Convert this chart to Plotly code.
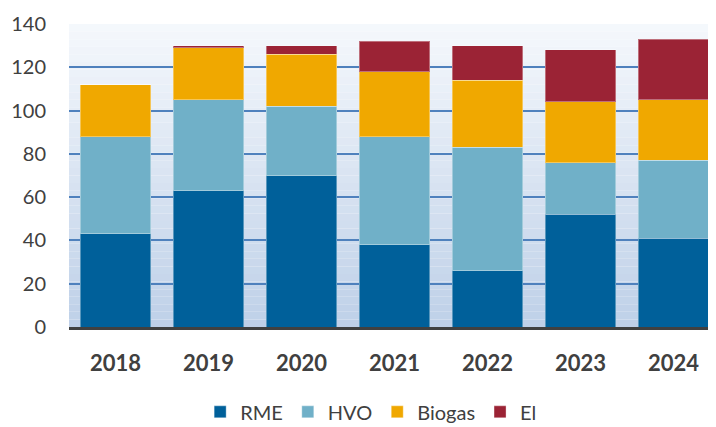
import plotly.graph_objects as go

years = ["2018", "2019", "2020", "2021", "2022", "2023", "2024"]
rme = [43, 63, 70, 38, 26, 52, 41]
hvo = [45, 42, 32, 50, 57, 24, 36]
biogas = [24, 24, 24, 30, 31, 28, 28]
el = [0, 1, 4, 14, 16, 24, 28]

series = [
    ("RME", rme, "#00609A"),
    ("HVO", hvo, "#70B0C8"),
    ("Biogas", biogas, "#F0A800"),
    ("El", el, "#9B2335"),
]

fig = go.Figure()
for name, vals, col in series:
    fig.add_trace(go.Bar(
        x=years, y=vals, name=name,
        marker=dict(color=col, line=dict(color="rgba(255,255,255,0.35)", width=1)),
    ))

# gradient background via thin strips
shapes = []
n = 40
top = (245, 248, 252)
bot = (190, 208, 232)
for i in range(n):
    t = (i + 0.5) / n
    c = tuple(int(round(top[k] + (bot[k] - top[k]) * t)) for k in range(3))
    shapes.append(dict(type="rect", xref="paper", yref="paper",
                       x0=0, x1=1, y0=1 - (i + 1) / n, y1=1 - i / n,
                       fillcolor="rgb(%d,%d,%d)" % c, line=dict(width=0), layer="below"))

FONT = "Lato, Liberation Sans, sans-serif"
fig.update_layout(
    barmode="stack",
    bargap=0.237,
    width=708, height=419,
    margin=dict(l=61, r=0, t=16, b=100, autoexpand=False),
    paper_bgcolor="white",
    plot_bgcolor="rgba(0,0,0,0)",
    font=dict(family=FONT, color="#404040"),
    shapes=shapes,
    showlegend=True,
    legend=dict(orientation="h", xref="paper", x=0.467, xanchor="center",
                yref="paper", y=-0.28, yanchor="middle",
                font=dict(size=20, color="#404040"), traceorder="normal",
                itemwidth=30),
    xaxis=dict(range=[-0.5, 6.457], showgrid=False, ticks="", automargin=False,
               tickfont=dict(size=22, color="#404040", family=FONT, weight="bold"),
               ticklabelstandoff=15, showline=True, linecolor="#404040", linewidth=3,
               fixedrange=True),
    yaxis=dict(range=[0, 140], dtick=20, showgrid=True, gridcolor="#4F81BD", gridwidth=2,
               zeroline=False, ticks="", tickfont=dict(size=20, color="#404040"),
               automargin=False, ticklabelstandoff=22, fixedrange=True),
)

fig.write_html("out.html")
